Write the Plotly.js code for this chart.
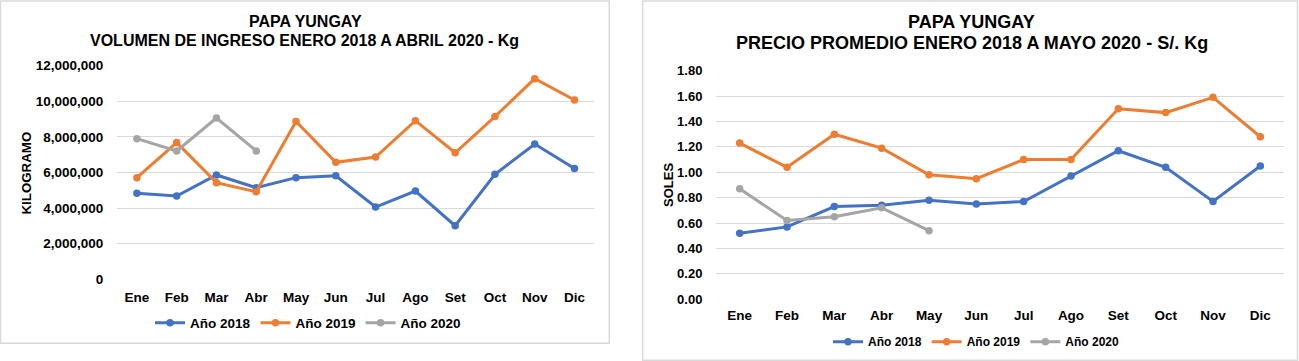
<!DOCTYPE html>
<html>
<head>
<meta charset="utf-8">
<script src="https://cdn.plot.ly/plotly-3.0.1.min.js"></script>
<style>html,body{margin:0;padding:0;background:#fff;}#chart{width:1299px;height:361px;}</style>
</head>
<body>
<div id="chart"></div>
<script>
// ---- Data ----
var months = ["Ene","Feb","Mar","Abr","May","Jun","Jul","Ago","Set","Oct","Nov","Dic"];
var seriesNames = ["Año 2018","Año 2019","Año 2020"];

// Volumen de ingreso (Kg)
var vol2018 = [4830000,4680000,5860000,5150000,5710000,5820000,4060000,4960000,3010000,5900000,7600000,6220000];
var vol2019 = [5710000,7680000,5430000,4920000,8870000,6570000,6870000,8910000,7110000,9140000,11270000,10070000];
var vol2020 = [7900000,7210000,9060000,7210000];

// Precio promedio (S/. por Kg)
var pre2018 = [0.52,0.57,0.73,0.74,0.78,0.75,0.77,0.97,1.17,1.04,0.77,1.05];
var pre2019 = [1.23,1.04,1.30,1.19,0.98,0.95,1.10,1.10,1.50,1.47,1.59,1.28];
var pre2020 = [0.87,0.62,0.65,0.72,0.54];

var volTicks = [0,2000000,4000000,6000000,8000000,10000000,12000000];
var volTickText = ["0","2,000,000","4,000,000","6,000,000","8,000,000","10,000,000","12,000,000"];
var preTicks = [0,0.2,0.4,0.6,0.8,1.0,1.2,1.4,1.6,1.8];
var preTickText = ["0.00","0.20","0.40","0.60","0.80","1.00","1.20","1.40","1.60","1.80"];

// ---- Styles ----
var colors = ["#4472C4","#ED7D31","#A5A5A5"];
var FONT = "Liberation Sans, Arial, Helvetica, sans-serif";
var W = 1299, H = 361;
function px(x){return x/W;}
function py(y){return 1 - y/H;}

function trace(x, y, i, xa, ya, leg){
  return {
    x: x.slice(0, y.length), y: y, type: "scatter", mode: "lines+markers",
    name: seriesNames[i], xaxis: xa, yaxis: ya, legend: leg, showlegend: true,
    line: {color: colors[i], width: 3},
    marker: {color: colors[i], size: 7.5},
    hoverinfo: "x+y"
  };
}

var data = [
  trace(months, vol2018, 0, "x", "y", "legend"),
  trace(months, vol2019, 1, "x", "y", "legend"),
  trace(months, vol2020, 2, "x", "y", "legend"),
  trace(months, pre2018, 0, "x2", "y2", "legend2"),
  trace(months, pre2019, 1, "x2", "y2", "legend2"),
  trace(months, pre2020, 2, "x2", "y2", "legend2")
];

var tickFont = {family: FONT, size: 13.5, color: "#000", weight: 700};

var layout = {
  width: W, height: H,
  margin: {l: 0, r: 0, t: 0, b: 0},
  paper_bgcolor: "#fff", plot_bgcolor: "#fff",
  font: {family: FONT, color: "#000"},
  xaxis: {
    domain: [px(117), px(594.4)], anchor: "y",
    type: "category", categoryorder: "array", categoryarray: months,
    range: [-0.5, 11.5], showgrid: false, zeroline: false, showline: false,
    ticks: "outside", ticklen: 5, tickcolor: "rgba(0,0,0,0)",
    tickfont: tickFont, fixedrange: true
  },
  yaxis: {
    domain: [py(279.3), py(65.7)], anchor: "x",
    range: [0, 12000000], tickvals: volTicks, ticktext: volTickText,
    showgrid: true, gridcolor: "#D9D9D9", gridwidth: 1, zeroline: false, showline: false,
    ticks: "outside", ticklen: 10, tickcolor: "rgba(0,0,0,0)",
    tickfont: {family: FONT, size: 13.5, color: "#000", weight: 700}, fixedrange: true
  },
  xaxis2: {
    domain: [px(716), px(1284)], anchor: "y2",
    type: "category", categoryorder: "array", categoryarray: months,
    range: [-0.5, 11.5], showgrid: false, zeroline: false, showline: false,
    ticks: "outside", ticklen: 3, tickcolor: "rgba(0,0,0,0)",
    tickfont: tickFont, fixedrange: true
  },
  yaxis2: {
    domain: [py(299.3), py(70.7)], anchor: "x2",
    range: [0, 1.8], tickvals: preTicks, ticktext: preTickText,
    showgrid: true, gridcolor: "#D9D9D9", gridwidth: 1, zeroline: false, showline: false,
    ticks: "outside", ticklen: 10, tickcolor: "rgba(0,0,0,0)",
    tickfont: {family: FONT, size: 13, color: "#000", weight: 700}, fixedrange: true
  },
  legend: {
    orientation: "h", x: px(150), xanchor: "left", y: py(323), yanchor: "middle",
    font: {family: FONT, size: 13.5, color: "#000", weight: 700},
    bgcolor: "rgba(0,0,0,0)", itemclick: false, itemdoubleclick: false
  },
  legend2: {
    orientation: "h", x: px(828), xanchor: "left", y: py(341.7), yanchor: "middle",
    font: {family: FONT, size: 12, color: "#000", weight: 700},
    bgcolor: "rgba(0,0,0,0)", itemclick: false, itemdoubleclick: false
  },
  shapes: [
    {type: "rect", xref: "paper", yref: "paper", x0: px(0.5), x1: px(609.3), y0: py(343.3), y1: py(1),
     line: {color: "#D9D9D9", width: 1.5}, fillcolor: "rgba(0,0,0,0)", layer: "below"},
    {type: "rect", xref: "paper", yref: "paper", x0: px(642.7), x1: px(1297.5), y0: py(360.3), y1: py(1),
     line: {color: "#D9D9D9", width: 1.5}, fillcolor: "rgba(0,0,0,0)", layer: "below"}
  ],
  annotations: [
    {text: "PAPA YUNGAY", xref: "paper", yref: "paper", x: px(305), y: py(21), xanchor: "center", yanchor: "middle",
     showarrow: false, font: {family: FONT, size: 16, color: "#000", weight: 700}},
    {text: "VOLUMEN DE INGRESO ENERO 2018 A ABRIL 2020 - Kg", xref: "paper", yref: "paper", x: px(304), y: py(40), xanchor: "center", yanchor: "middle",
     showarrow: false, font: {family: FONT, size: 16, color: "#000", weight: 700}},
    {text: "PAPA YUNGAY", xref: "paper", yref: "paper", x: px(971), y: py(21.7), xanchor: "center", yanchor: "middle",
     showarrow: false, font: {family: FONT, size: 18, color: "#000", weight: 700}},
    {text: "PRECIO PROMEDIO ENERO 2018 A MAYO 2020 - S/. Kg", xref: "paper", yref: "paper", x: px(972), y: py(43.3), xanchor: "center", yanchor: "middle",
     showarrow: false, font: {family: FONT, size: 18, color: "#000", weight: 700}},
    {text: "KILOGRAMO", xref: "paper", yref: "paper", x: px(26), y: py(173.5), xanchor: "center", yanchor: "middle",
     textangle: -90, showarrow: false, font: {family: FONT, size: 13.3, color: "#000", weight: 700}},
    {text: "SOLES", xref: "paper", yref: "paper", x: px(668), y: py(185), xanchor: "center", yanchor: "middle",
     textangle: -90, showarrow: false, font: {family: FONT, size: 13, color: "#000", weight: 700}}
  ],
  hovermode: "closest"
};

Plotly.newPlot("chart", data, layout, {displayModeBar: false, responsive: false});
</script>
</body>
</html>
